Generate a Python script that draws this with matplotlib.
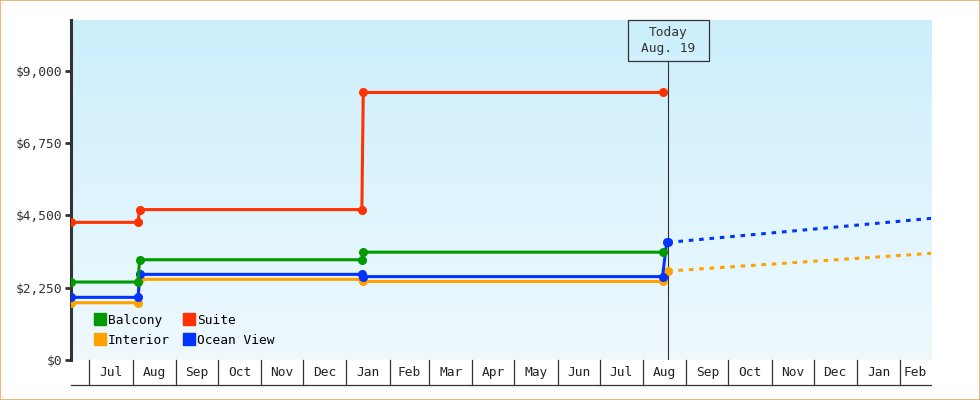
import datetime as dt
import numpy as np
import matplotlib
matplotlib.use('Agg')
import matplotlib.pyplot as plt
import matplotlib.dates as mdates
from matplotlib.lines import Line2D
from matplotlib.patches import Rectangle

d = dt.date

# price history (step changes)
balcony_dates = [d(2013, 6, 18), d(2013, 8, 5), d(2013, 8, 6), d(2014, 1, 12), d(2014, 1, 13), d(2014, 8, 15)]
balcony_vals = [2426, 2426, 3120, 3120, 3355, 3355]

suite_dates = [d(2013, 6, 18), d(2013, 8, 5), d(2013, 8, 6), d(2014, 1, 12), d(2014, 1, 13), d(2014, 8, 15)]
suite_vals = [4283, 4283, 4681, 4681, 8325, 8325]

interior_dates = [d(2013, 6, 18), d(2013, 8, 5), d(2013, 8, 6), d(2014, 1, 12), d(2014, 1, 13), d(2014, 8, 15), d(2014, 8, 19)]
interior_vals = [1782, 1782, 2510, 2510, 2445, 2445, 2768]

ocean_dates = [d(2013, 6, 18), d(2013, 8, 5), d(2013, 8, 6), d(2014, 1, 12), d(2014, 1, 13), d(2014, 8, 15), d(2014, 8, 18), d(2014, 8, 19)]
ocean_vals = [1950, 1950, 2665, 2665, 2595, 2595, 3660, 3660]

# forecast (dotted)
interior_fc_dates = [d(2014, 8, 19), d(2015, 2, 23)]
interior_fc_vals = [2768, 3318]
ocean_fc_dates = [d(2014, 8, 19), d(2015, 2, 23)]
ocean_fc_vals = [3660, 4407]

today = d(2014, 8, 19)
x_start, x_end = d(2013, 6, 18), d(2015, 2, 23)
y_ticks = [0, 2250, 4500, 6750, 9000]
y_max = 10580

colors = {'Balcony': '#009a00', 'Suite': '#ff3300', 'Interior': '#ffa200', 'Ocean View': '#0033ff'}
ink = '#333333'
fs = 9.3
plt.rcParams['font.family'] = 'DejaVu Sans Mono'

fig = plt.figure(figsize=(9.8, 4), dpi=100)
ax = fig.add_axes([71 / 980, 40 / 400, 860 / 980, 340 / 400])

# background gradient
grad = np.linspace(0, 1, 256).reshape(-1, 1)
top = np.array([0xcc, 0xef, 0xfc]) / 255
bot = np.array([0xef, 0xf9, 0xfe]) / 255
img = top[None, None, :] * (1 - grad[:, :, None]) + bot[None, None, :] * grad[:, :, None]
ax.imshow(img, extent=[0, 1, 0, 1], transform=ax.transAxes, aspect='auto', zorder=0)

lw = 2.2
ms = 5.5
ax.plot(interior_dates, interior_vals, color=colors['Interior'], lw=lw, marker='o', ms=ms, zorder=3)
ax.plot(ocean_dates, ocean_vals, color=colors['Ocean View'], lw=lw, marker='o', ms=ms, zorder=4)
ax.plot(balcony_dates, balcony_vals, color=colors['Balcony'], lw=lw, marker='o', ms=ms, zorder=5)
ax.plot(suite_dates, suite_vals, color=colors['Suite'], lw=lw, marker='o', ms=ms, zorder=5)
ax.plot(interior_fc_dates, interior_fc_vals, color=colors['Interior'], lw=lw, ls=(0, (1.5, 1.9)), zorder=3)
ax.plot(ocean_fc_dates, ocean_fc_vals, color=colors['Ocean View'], lw=lw, ls=(0, (1.5, 1.9)), zorder=3)

ax.set_xlim(mdates.date2num(x_start), mdates.date2num(x_end))
ax.set_ylim(0, y_max)

# y axis
for s in ['top', 'right', 'bottom']:
    ax.spines[s].set_visible(False)
ax.spines['left'].set_linewidth(2.2)
ax.spines['left'].set_color(ink)
ax.set_yticks(y_ticks)
ax.set_yticklabels(['${:,}'.format(v) for v in y_ticks])
ax.tick_params(axis='y', length=4, width=2, color=ink, labelcolor=ink, labelsize=fs, pad=2)

# x axis as month cells
ax.set_xticks([])
month_starts = []
m = d(x_start.year, x_start.month, 1)
while m <= x_end:
    if m > x_start:
        month_starts.append(m)
    m = d(m.year + (m.month == 12), m.month % 12 + 1, 1)
edges = [mdates.date2num(x_start)] + [mdates.date2num(v) for v in month_starts] + [mdates.date2num(x_end)]
cell_y1 = -25 / 340
for e in edges[1:-1]:
    ax.plot([e, e], [0, cell_y1], color=ink, lw=0.9,
            transform=ax.get_xaxis_transform(), clip_on=False)
ax.plot([0, 1], [cell_y1, cell_y1], color=ink, lw=0.9, transform=ax.transAxes, clip_on=False)
for i, ms_date in enumerate(month_starts):
    mid = (edges[i + 1] + edges[i + 2]) / 2
    ax.text(mid, cell_y1 / 2, ms_date.strftime('%b'), ha='center', va='center', fontsize=fs,
            color='#222222', transform=ax.get_xaxis_transform())

# today marker
t = mdates.date2num(today)
ax.plot([t, t], [0, (360 - 61) / 340], color=ink, lw=0.8, transform=ax.get_xaxis_transform(), zorder=2)
ax.text(t, 1 - 20.5 / 340, 'Today\nAug. 19', ha='center', va='center', fontsize=fs, color=ink,
        linespacing=1.25, transform=ax.get_xaxis_transform())
fig.canvas.draw()
tx, _ = ax.transData.transform((t, 0))
fig.add_artist(Rectangle(((tx - 40.5) / 980, (400 - 61) / 400), 81 / 980, 41 / 400,
                         transform=fig.transFigure, fill=False, edgecolor=ink, lw=0.9))

# legend
names = ['Balcony', 'Interior', 'Suite', 'Ocean View']
handles = [Line2D([], [], marker='s', ls='none', markersize=8, color=colors[n]) for n in names]
ax.legend(handles, names, ncol=2, loc='lower left', bbox_to_anchor=(0.023, 0.024), frameon=False,
          fontsize=fs, handlelength=0.7, handletextpad=0.25, columnspacing=1.1, labelspacing=0.55,
          borderaxespad=0)

# outer border
fig.add_artist(Rectangle((0.0005, 0.0012), 0.999, 0.9976, transform=fig.transFigure, fill=False,
                         edgecolor='#e9a960', lw=1.2))

fig.savefig('out.png', dpi=100)
